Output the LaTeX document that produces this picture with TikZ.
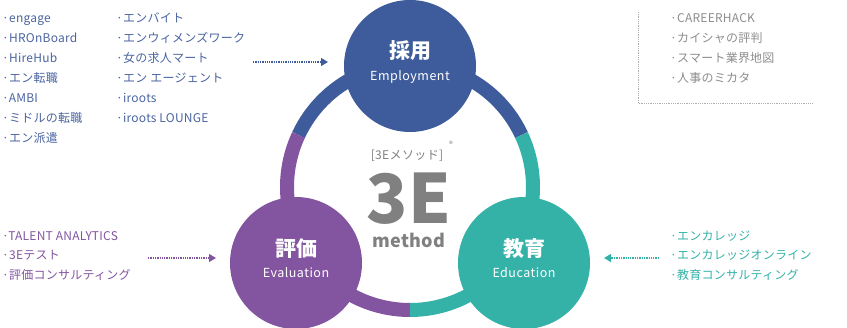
\documentclass[tikz,border=0pt]{standalone}
\usepackage{fontspec}
\setmainfont{Noto Sans CJK JP}
\usetikzlibrary{arrows.meta}

\definecolor{empblue}{HTML}{3E5C9B}
\definecolor{evapurple}{HTML}{8354A0}
\definecolor{eduteal}{HTML}{34B2A8}
\definecolor{midgray}{HTML}{808080}
\definecolor{listblue}{HTML}{4A64A0}
\definecolor{listgray}{HTML}{8C8C8C}

\begin{document}
\begin{tikzpicture}[
    x=1pt, y=1pt,
    stage/.style={circle, minimum size=132pt, inner sep=0pt},
    stagejp/.style={text=white, font=\fontsize{21}{24}\selectfont\bfseries},
    stageen/.style={text=white, font=\fontsize{12.5}{14}\selectfont\addfontfeatures{LetterSpace=4}},
    item/.style={anchor=base west, inner sep=0pt, font=\fontsize{12}{14}\selectfont\addfontfeatures{LetterSpace=2}},
    ringpart/.style={line width=14pt},
    feed/.style={densely dotted, line width=1.3pt, -{Triangle[length=7pt,width=8pt]}}
    ]
    \useasboundingbox (0,0) rectangle (847,-328);

    % ring
    \coordinate (ringc) at (410,-187);
    \draw [ringpart, empblue]
        ([shift={(25:123)}]ringc) arc (25:155:123)
        ;
    \draw [ringpart, evapurple]
        ([shift={(155:123)}]ringc) arc (155:270:123)
        ;
    \draw [ringpart, eduteal]
        ([shift={(270:123)}]ringc) arc (270:385:123)
        ;

    % the three stages
    \node (emp) at (410,-66) [stage, fill=empblue] {};
    \node (emp-jp) at ([yshift=15]emp.center) [stagejp] {採用};
    \node (emp-en) at ([yshift=-11]emp.center) [stageen] {Employment};

    \node (eva) at (296,-263) [stage, fill=evapurple] {};
    \node (eva-jp) at ([yshift=14]eva.center) [stagejp] {評価};
    \node (eva-en) at ([yshift=-10]eva.center) [stageen] {Evaluation};

    \node (edu) at (524,-263) [stage, fill=eduteal] {};
    \node (edu-jp) at ([yshift=14]edu.center) [stagejp] {教育};
    \node (edu-en) at ([yshift=-10]edu.center) [stageen] {Education};

    % centre title
    \node (title-sub) at (407,-156) [text=midgray, font=\fontsize{12}{14}\selectfont\addfontfeatures{LetterSpace=3}] {[3Eメソッド]};
    \node (title-reg) at (451,-144) [text=midgray, font=\fontsize{8}{9}\selectfont] {®};
    \node (title-big) at (409,-199) [inner sep=0pt, text=midgray, font=\fontsize{68}{70}\selectfont\bfseries] {3E};
    \node (title-method) at (409,-240) [inner sep=0pt, text=midgray, font=\fontsize{18}{20}\selectfont\bfseries\addfontfeatures{LetterSpace=2}] {method};

    % employment services
    \foreach \txt [count=\i] in {engage, HROnBoard, HireHub, エン転職, AMBI, ミドルの転職, エン派遣}
        \node (emp-a-\i) at (2,{-22.5-20*(\i-1)}) [item, text=listblue] {·\txt};
    \foreach \txt [count=\i] in {エンバイト, エンウィメンズワーク, 女の求人マート, エン エージェント, iroots, iroots LOUNGE}
        \node (emp-b-\i) at (116,{-22.5-20*(\i-1)}) [item, text=listblue] {·\txt};
    \coordinate (emp-from) at (253,-62);
    \coordinate (emp-to) at (328,-62);
    \draw [feed, empblue] (emp-from) -- (emp-to);

    % media
    \foreach \txt [count=\i] in {CAREERHACK, カイシャの評判, スマート業界地図, 人事のミカタ}
        \node (media-\i) at (670,{-22.5-20*(\i-1)}) [item, text=listgray] {·\txt};
    \coordinate (media-top) at (638,-12);
    \coordinate (media-corner) at (638,-103);
    \coordinate (media-end) at (812,-103);
    \draw [densely dotted, line width=0.8pt, listgray!70]
        (media-top) -- (media-corner) -- (media-end)
        ;

    % evaluation services
    \foreach \txt [count=\i] in {TALENT ANALYTICS, 3Eテスト, 評価コンサルティング}
        \node (eva-\i) at (2,{-240.5-19.5*(\i-1)}) [item, text=evapurple] {·\txt};
    \coordinate (eva-from) at (148,-258);
    \coordinate (eva-to) at (216,-258);
    \draw [feed, evapurple] (eva-from) -- (eva-to);

    % education services
    \foreach \txt [count=\i] in {エンカレッジ, エンカレッジオンライン, 教育コンサルティング}
        \node (edu-\i) at (670,{-240.5-19.5*(\i-1)}) [item, text=eduteal] {·\txt};
    \coordinate (edu-from) at (659,-258);
    \coordinate (edu-to) at (604,-258);
    \draw [feed, eduteal] (edu-from) -- (edu-to);
\end{tikzpicture}
\end{document}
